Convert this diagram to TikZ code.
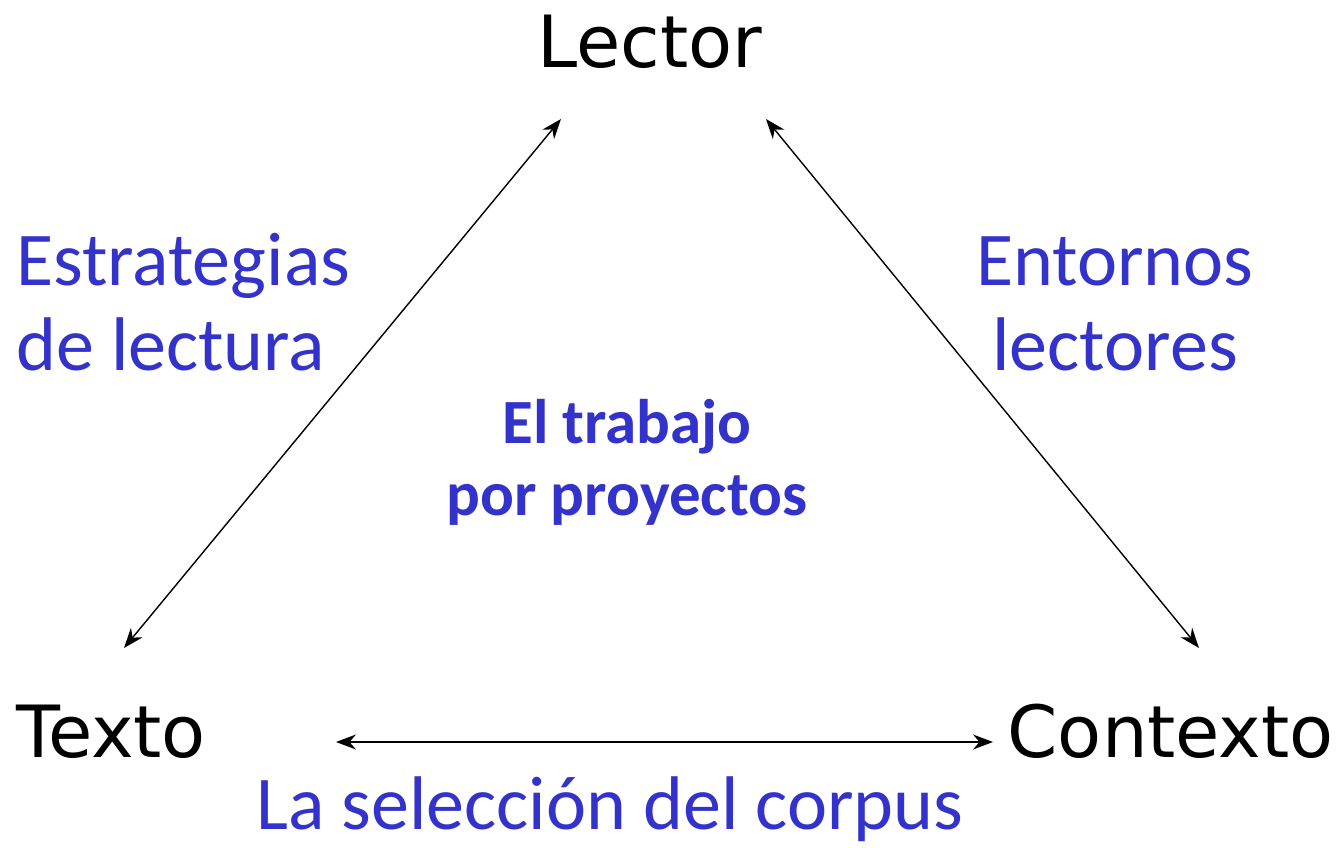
\documentclass[tikz,border=0pt]{standalone}
\usepackage{fontspec}
\setmainfont{DejaVu Sans}
\newfontfamily\bluefont{Carlito}
\usetikzlibrary{arrows.meta}
\definecolor{lblue}{RGB}{51,51,204}
\tikzset{
  vertex/.style={font=\fontsize{72}{80}\selectfont, inner sep=0pt, text=black},
  side/.style={font=\bluefont\fontsize{76}{85}\selectfont, inner sep=0pt, text=lblue, align=center},
  centre/.style={font=\bluefont\bfseries\fontsize{63}{72}\selectfont, inner sep=0pt, text=lblue, align=center},
  link/.style={draw=black, line width=1.4pt, {Stealth[length=20pt,width=15pt]}-{Stealth[length=20pt,width=15pt]}}
}
\begin{document}
\begin{tikzpicture}[x=1pt,y=-1pt]
\useasboundingbox (0,0) rectangle (1339,848);
\node[vertex, anchor=base] (lector) at (650,68) {Lector};
\node[vertex, anchor=base west] (texto) at (16,757) {Texto};
\node[vertex, anchor=base east] (contexto) at (1334,757) {Contexto};
\node[side, anchor=base west, align=left] (estr) at (16,370) {Estrategias\\de lectura};
\node[side, anchor=base] (ent) at (1115,370) {Entornos\\lectores};
\node[centre, anchor=base] (trab) at (627,515) {El trabajo\\por proyectos};
\node[side, anchor=base] (sel) at (610,829) {La selección del corpus};
\coordinate (lA) at (561,119);
\coordinate (lB) at (124,648);
\coordinate (rA) at (766,119);
\coordinate (rB) at (1199,648);
\coordinate (bA) at (336,742);
\coordinate (bB) at (993,742);
\draw[link] (lA) -- (lB);
\draw[link] (rA) -- (rB);
\draw[link] (bA) -- (bB);
\end{tikzpicture}
\end{document}
